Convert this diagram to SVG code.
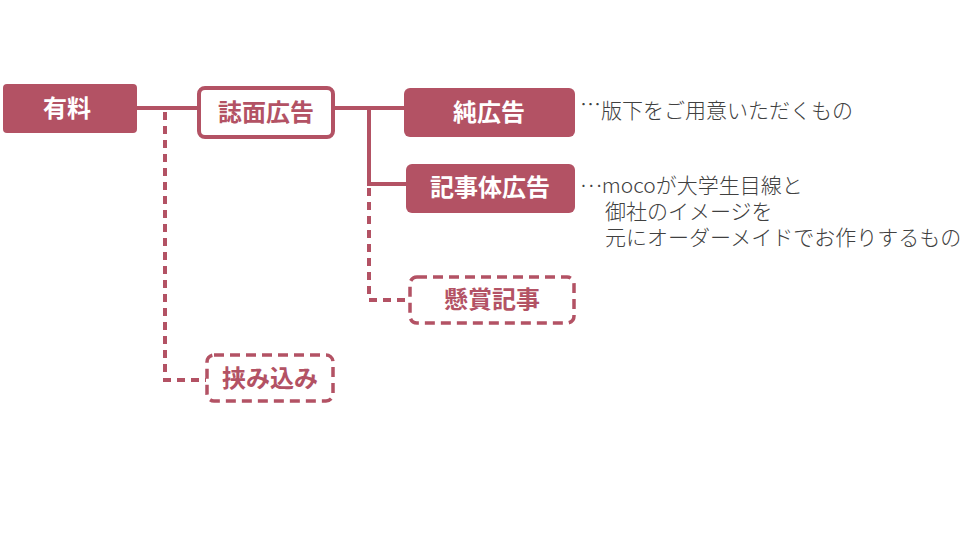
<svg xmlns="http://www.w3.org/2000/svg" width="960" height="560" viewBox="0 0 960 560">
<style>
.fill{fill:#B35264;}
.outline{fill:#fff;stroke:#B35264;stroke-width:4;}
.dash{fill:#fff;stroke:#B35264;stroke-width:3.5;stroke-dasharray:10 6;}
.lw{font-family:"Noto Sans CJK JP","Noto Sans",sans-serif;font-size:24px;font-weight:bold;fill:#fff;text-anchor:middle;}
.lc{font-family:"Noto Sans CJK JP","Noto Sans",sans-serif;font-size:24px;font-weight:bold;fill:#B35264;text-anchor:middle;}
.note{font-family:"Noto Sans CJK JP","Noto Sans",sans-serif;font-size:21px;font-weight:300;fill:#404040;}
.ln{fill:none;stroke:#B35264;stroke-width:4;}
.dl{fill:none;stroke:#B35264;stroke-width:4;stroke-dasharray:8 6;}
</style>
<rect width="960" height="560" fill="#fff"/>
<g id="connectors">
<line class="ln" x1="137" y1="108" x2="198" y2="108"/>
<line class="ln" x1="333" y1="108" x2="404" y2="108"/>
<polyline class="ln" points="369,108 369,184 406,184"/>
<polyline class="dl" points="369,188 369,300 409,300"/>
<polyline class="dl" points="165,112 165,380 206,380"/>
</g>
<g id="yuryo">
<rect class="fill" x="3" y="84" width="134" height="49" rx="4"/>
<text class="lw" x="67" y="117">有料</text>
</g>
<g id="shimen">
<rect class="outline" x="199" y="88" width="134" height="49" rx="6"/>
<text class="lc" x="266" y="121">誌面広告</text>
</g>
<g id="jun">
<rect class="fill" x="404" y="88" width="171" height="49" rx="6"/>
<text class="lw" x="489" y="121">純広告</text>
</g>
<g id="kijitai">
<rect class="fill" x="406" y="164" width="169" height="49" rx="6"/>
<text class="lw" x="490" y="196">記事体広告</text>
</g>
<g id="kensho">
<rect class="dash" x="410" y="277" width="164" height="46" rx="7"/>
<text class="lc" x="492" y="308">懸賞記事</text>
</g>
<g id="hasamikomi">
<rect class="dash" x="207" y="355" width="126" height="46" rx="7"/>
<text class="lc" x="270" y="387">挟み込み</text>
</g>
<g id="notes">
<text class="note" x="580" y="118"><tspan dy="-6">…</tspan><tspan dy="6">版下をご用意いただくもの</tspan></text>
<text class="note" x="580" y="193"><tspan dy="-6">…</tspan><tspan dy="6">mocoが大学生目線と</tspan></text>
<text class="note" x="605" y="219">御社のイメージを</text>
<text class="note" x="605" y="245">元にオーダーメイドでお作りするもの</text>
</g>
</svg>
